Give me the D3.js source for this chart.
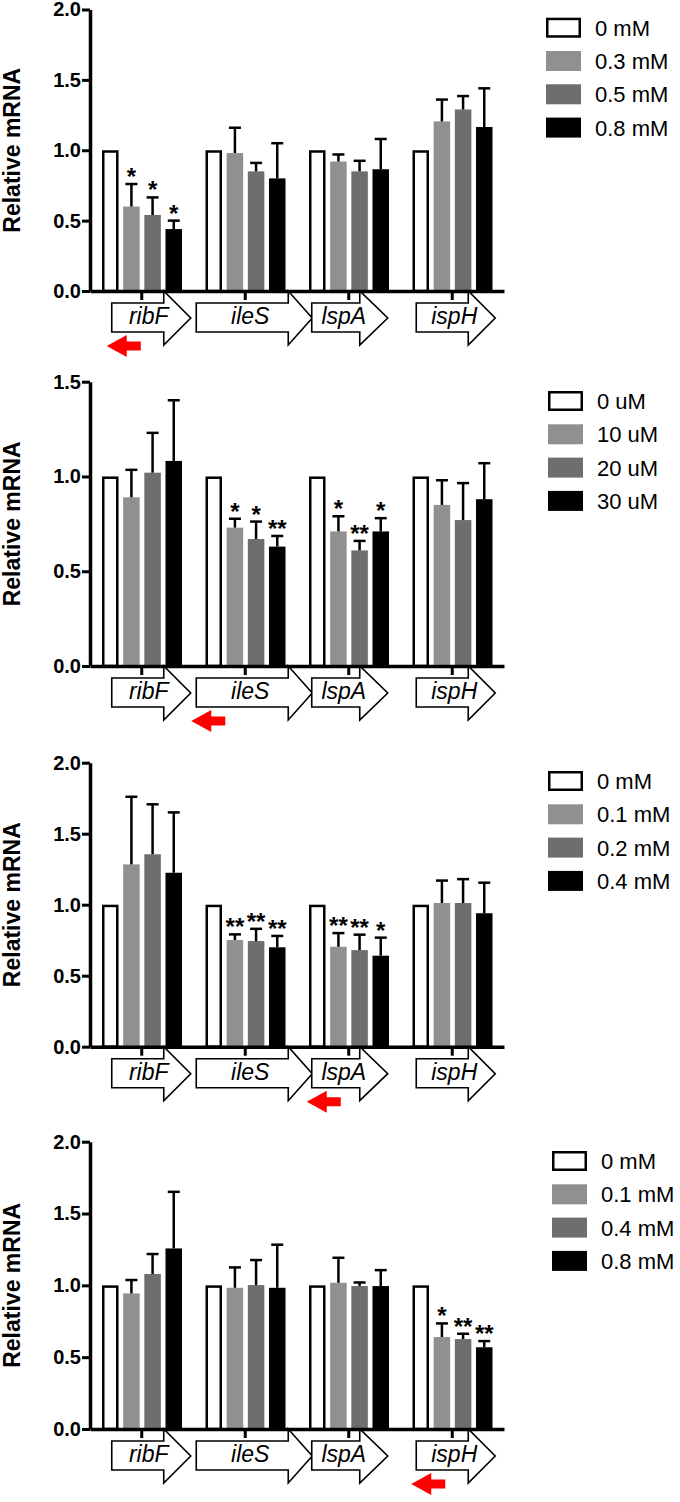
<!DOCTYPE html>
<html>
<head>
<meta charset="utf-8">
<script src="https://cdn.jsdelivr.net/npm/d3@7"></script>
<style>
  body { margin: 0; background: #fff; }
  svg { display: block; font-family: "Liberation Sans", Arial, Helvetica, sans-serif; }
</style>
</head>
<body>
<script>
// genes along the x axis (same in every panel)
const genes = ["ribF", "ileS", "lspA", "ispH"]

// panel A
const legendA = ["0 mM", "0.3 mM", "0.5 mM", "0.8 mM"]
const meanA = [[1, 0.60, 0.54, 0.44], [1, 0.98, 0.85, 0.80], [1, 0.92, 0.85, 0.865], [1, 1.205, 1.29, 1.165]]
const errA = [[0, 0.16, 0.125, 0.06], [0, 0.18, 0.06, 0.25], [0, 0.05, 0.075, 0.215], [0, 0.155, 0.095, 0.275]]
const sigA = [["", "*", "*", "*"], ["", "", "", ""], ["", "", "", ""], ["", "", "", ""]]

// panel B
const legendB = ["0 uM", "10 uM", "20 uM", "30 uM"]
const meanB = [[1, 0.89, 1.02, 1.082], [1, 0.73, 0.67, 0.63], [1, 0.71, 0.61, 0.71], [1, 0.85, 0.77, 0.88]]
const errB = [[0, 0.145, 0.21, 0.32], [0, 0.047, 0.092, 0.056], [0, 0.08, 0.05, 0.07], [0, 0.13, 0.195, 0.19]]
const sigB = [["", "", "", ""], ["", "*", "*", "**"], ["", "*", "**", "*"], ["", "", "", ""]]

// panel C
const legendC = ["0 mM", "0.1 mM", "0.2 mM", "0.4 mM"]
const meanC = [[1, 1.284, 1.355, 1.225], [1, 0.751, 0.744, 0.70], [1, 0.704, 0.68, 0.641], [1, 1.012, 1.012, 0.94]]
const errC = [[0, 0.476, 0.352, 0.425], [0, 0.04, 0.086, 0.08], [0, 0.096, 0.109, 0.127], [0, 0.158, 0.168, 0.215]]
const sigC = [["", "", "", ""], ["", "**", "**", "**"], ["", "**", "**", "*"], ["", "", "", ""]]

// panel D
const legendD = ["0 mM", "0.1 mM", "0.4 mM", "0.8 mM"]
const meanD = [[1, 0.944, 1.079, 1.257], [1, 0.983, 1.002, 0.983], [1, 1.018, 0.995, 0.995], [1, 0.64, 0.626, 0.569]]
const errD = [[0, 0.093, 0.139, 0.394], [0, 0.142, 0.174, 0.30], [0, 0.174, 0.025, 0.111], [0, 0.095, 0.037, 0.043]]
const sigD = [["", "", "", ""], ["", "", "", ""], ["", "", "", ""], ["", "*", "**", "**"]]

const yTop = [2.0, 1.5, 2.0, 2.0]
const markedGene = ["ribF", "ileS", "lspA", "ispH"]   // red arrow under this gene

const colors = ["#ffffff", "#909092", "#6e6e6e", "#000000"]

// page layout (pixels)
const panels = [
    {legend: legendA, mean: meanA, err: errA, sig: sigA, top: 9.5, bottom: 291, lx: 546, ly: 17.7},
    {legend: legendB, mean: meanB, err: errB, sig: sigB, top: 381.7, bottom: 666, lx: 548, ly: 391},
    {legend: legendC, mean: meanC, err: errC, sig: sigC, top: 762.7, bottom: 1046.7, lx: 548, ly: 771},
    {legend: legendD, mean: meanD, err: errD, sig: sigD, top: 1141.7, bottom: 1429, lx: 552, ly: 1151}
]
// gene arrow shape, offsets from the group centre
const geneShape = {
    ribF: {x1: -30, x2: 22, tip: 49, lab: 7},
    ileS: {x1: -49, x2: 43, tip: 67, lab: 5},
    lspA: {x1: -37, x2: 11, tip: 39, lab: -5},
    ispH: {x1: -36, x2: 16, tip: 43, lab: 2}
}

const svg = d3.select("body").append("svg")
    .attr("width", 680)
    .attr("height", 1502)

svg.append("rect").attr("width", 680).attr("height", 1502).attr("fill", "#fff")

const xScale = d3.scaleBand()
    .domain(genes)
    .range([90, 504])

const xSub = d3.scaleBand()
    .domain([0, 1, 2, 3])
    .range([12, 92])
    .paddingInner(0.22)

panels.forEach((p, pi) => {
    const g = svg.append("g")

    const yScale = d3.scaleLinear()
        .domain([0, yTop[pi]])
        .range([p.bottom, p.top])

    const a = p.bottom

    // gene arrows under the axis
    genes.forEach(gene => {
        const c = xScale(gene) + xScale.bandwidth() / 2
        const s = geneShape[gene]
        const pts = [
            [c + s.x1, a + 12], [c + s.x2, a + 12], [c + s.x2, a], [c + s.tip, a + 27],
            [c + s.x2, a + 54], [c + s.x2, a + 41], [c + s.x1, a + 41]
        ]
        g.append("path")
            .attr("d", "M" + pts.join("L") + "Z")
            .attr("fill", "#fff")
            .attr("stroke", "#000")
            .attr("stroke-width", 1.6)
        g.append("text")
            .attr("x", c + s.lab)
            .attr("y", a + 33)
            .attr("text-anchor", "middle")
            .attr("font-size", "23px")
            .attr("font-style", "italic")
            .attr("fill", "#000")
            .text(gene)
    })

    // red arrow
    const mc = xScale(markedGene[pi]) + xScale.bandwidth() / 2
    const t = mc + geneShape[markedGene[pi]].x1 - 5
    const yc = a + 55
    g.append("path")
        .attr("d", `M${t},${yc}L${t + 20},${yc - 11}L${t + 20},${yc - 4.5}L${t + 34},${yc - 4.5}L${t + 34},${yc + 4.5}L${t + 20},${yc + 4.5}L${t + 20},${yc + 11}Z`)
        .attr("fill", "#ff0000")

    // bars
    genes.forEach((gene, gi) => {
        const gx = xScale(gene)
        p.mean[gi].forEach((v, si) => {
            const bx = gx + xSub(si)
            const bw = xSub.bandwidth()
            if (si === 0) {
                g.append("rect")
                    .attr("x", bx + 1.25)
                    .attr("y", yScale(v) + 1.25)
                    .attr("width", bw - 2.5)
                    .attr("height", yScale(0) - yScale(v) - 1.25)
                    .attr("fill", "#fff")
                    .attr("stroke", "#000")
                    .attr("stroke-width", 2.5)
            } else {
                g.append("rect")
                    .attr("x", bx)
                    .attr("y", yScale(v))
                    .attr("width", bw)
                    .attr("height", yScale(0) - yScale(v))
                    .attr("fill", colors[si])
            }
            const e = p.err[gi][si]
            if (e > 0) {
                const cx = bx + bw / 2
                g.append("line")
                    .attr("x1", cx).attr("x2", cx)
                    .attr("y1", yScale(v)).attr("y2", yScale(v + e))
                    .attr("stroke", "#000").attr("stroke-width", 2.5)
                g.append("line")
                    .attr("x1", cx - 6).attr("x2", cx + 6)
                    .attr("y1", yScale(v + e)).attr("y2", yScale(v + e))
                    .attr("stroke", "#000").attr("stroke-width", 2.5)
            }
            const star = p.sig[gi][si]
            if (star) {
                g.append("text")
                    .attr("x", bx + bw / 2)
                    .attr("y", yScale(v + e) + 1)
                    .attr("text-anchor", "middle")
                    .attr("font-size", "24px")
                    .attr("font-weight", "bold")
                    .attr("fill", "#000")
                    .text(star)
            }
        })
    })

    // x axis
    const xAxis = g.append("g")
        .attr("transform", "translate(0," + a + ")")
        .call(d3.axisBottom(xScale).tickSize(9).tickSizeOuter(0).tickFormat(""))
    xAxis.select(".domain").attr("stroke-width", 3.5)
    xAxis.selectAll(".tick line").attr("stroke-width", 3)

    // y axis
    const ticks = d3.range(0, yTop[pi] + 0.01, 0.5)
    const yAxis = g.append("g")
        .attr("transform", "translate(90,0)")
        .call(d3.axisLeft(yScale).tickValues(ticks).tickFormat(d3.format(".1f")).tickSize(8).tickSizeOuter(0).tickPadding(1))
    yAxis.select(".domain").attr("stroke-width", 3.5)
    yAxis.selectAll(".tick line").attr("stroke-width", 3)
    yAxis.selectAll(".tick text")
        .attr("font-family", "\"Liberation Sans\", Arial, sans-serif")
        .attr("font-size", "20px")
        .attr("font-weight", "bold")
        .attr("fill", "#000")

    // y label
    g.append("text")
        .attr("transform", `translate(20,${(p.top + p.bottom) / 2}) rotate(-90)`)
        .attr("text-anchor", "middle")
        .attr("font-size", "23px")
        .attr("font-weight", "bold")
        .attr("fill", "#000")
        .text("Relative mRNA")

    // legend
    p.legend.forEach((lab, li) => {
        const ly = p.ly + li * 33.3
        g.append("rect")
            .attr("x", li === 0 ? p.lx + 1.25 : p.lx)
            .attr("y", li === 0 ? ly + 1.25 : ly)
            .attr("width", li === 0 ? 32.5 : 35)
            .attr("height", li === 0 ? 17.5 : 20)
            .attr("fill", colors[li])
            .attr("stroke", li === 0 ? "#000" : "none")
            .attr("stroke-width", 2.5)
        g.append("text")
            .attr("x", p.lx + 49)
            .attr("y", ly + 18)
            .attr("font-size", "22px")
            .attr("fill", "#000")
            .text(lab)
    })
})
</script>
</body>
</html>
